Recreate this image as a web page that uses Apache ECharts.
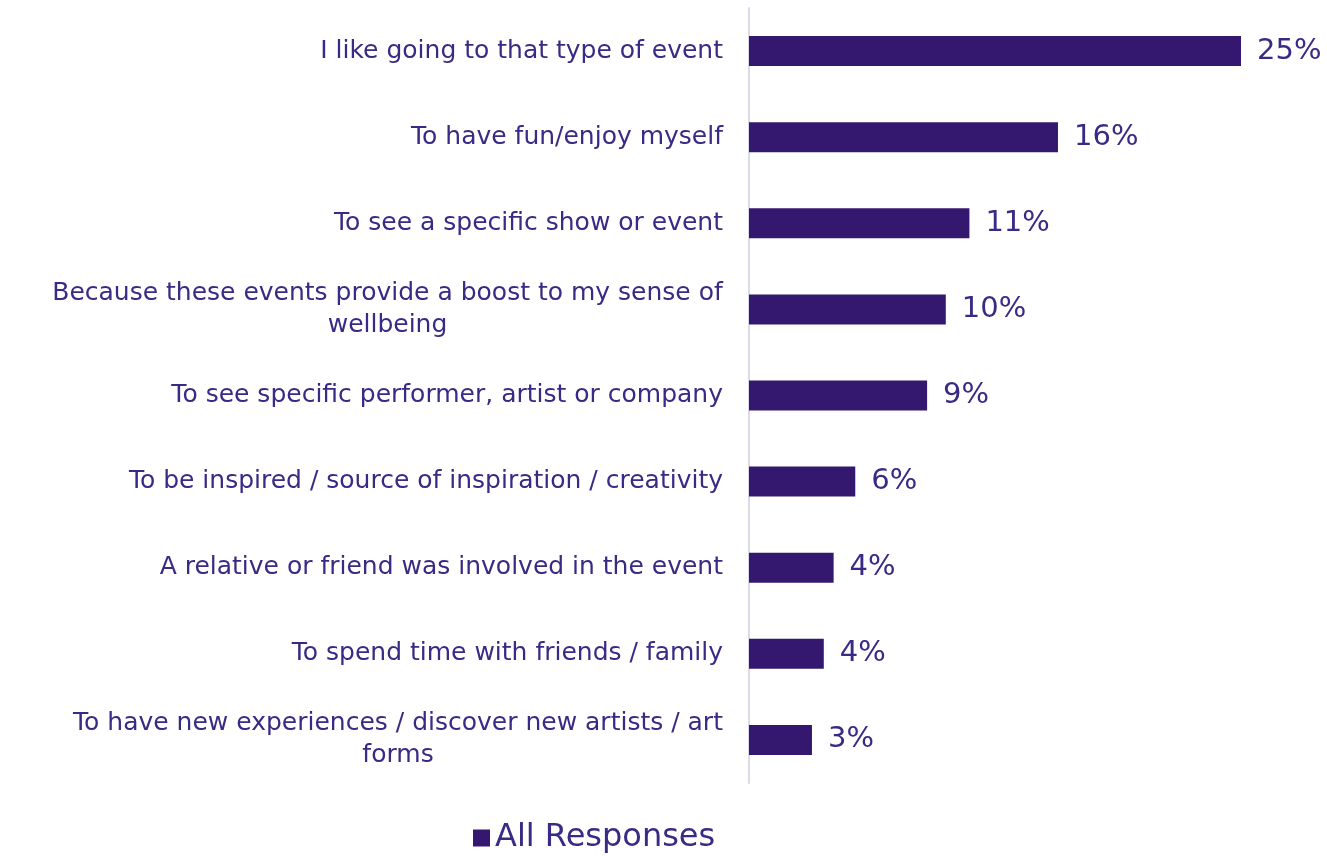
<!DOCTYPE html>
<html><head><meta charset="utf-8">
<script src="https://cdn.jsdelivr.net/npm/echarts@6/dist/echarts.min.js"></script>
<style>html,body{margin:0;padding:0;background:#fff}#c{width:1327px;height:856px}</style>
</head><body><div id="c"></div>
<script>
var categories = [
  "I like going to that type of event",
  "To have fun/enjoy myself",
  "To see a specific show or event",
  "Because these events provide a boost to my sense of\nwellbeing",
  "To see specific performer, artist or company",
  "To be inspired / source of inspiration / creativity",
  "A relative or friend was involved in the event",
  "To spend time with friends / family",
  "To have new experiences / discover new artists / art\nforms"
];
var values = [25.0, 15.7, 11.2, 10.0, 9.05, 5.4, 4.3, 3.8, 3.2];
var valueLabels = ["25%", "16%", "11%", "10%", "9%", "6%", "4%", "4%", "3%"];
var seriesName = "All Responses";

var FONT = "'DejaVu Sans', sans-serif";
var TXT = '#3a2a85';
var CAT_SIZE = 25;
var ctx = document.createElement('canvas').getContext('2d');
ctx.font = CAT_SIZE + 'px ' + FONT;
var catRich = {};
function fmtCat(v){
  var lines = v.split('\n');
  if (lines.length === 1) return v;
  var w = 0;
  lines.forEach(function(l){ w = Math.max(w, ctx.measureText(l).width); });
  var key = 'w' + Math.round(w);
  catRich[key] = {width: Math.ceil(w), align: 'center', fontSize: CAT_SIZE, color: TXT, fontFamily: FONT, lineHeight: 32};
  return lines.map(function(l){ return '{' + key + '|' + l + '}'; }).join('\n');
}
var catLabels = categories.map(fmtCat);

var chart = echarts.init(document.getElementById('c'));
chart.setOption({
  animation: false,
  textStyle: {fontFamily: FONT},
  grid: {left: 749, right: 86, top: 8, bottom: 73, containLabel: false},
  legend: {
    top: 817, left: 468, itemWidth: 17, itemHeight: 17, icon: 'rect', itemGap: 10,
    textStyle: {fontSize: 32, color: TXT, fontFamily: FONT},
    data: [seriesName]
  },
  xAxis: {type: 'value', min: 0, max: 25, show: false},
  yAxis: {
    type: 'category', inverse: true, data: catLabels,
    axisLine: {show: true, lineStyle: {color: '#d9dce8', width: 2}},
    axisTick: {show: false},
    axisLabel: {margin: 26, fontSize: CAT_SIZE, color: TXT, fontFamily: FONT, lineHeight: 32, rich: catRich}
  },
  series: [{
    name: seriesName, type: 'bar', data: values, barWidth: 30,
    itemStyle: {color: '#341870'},
    label: {show: true, position: 'right', distance: 16, fontSize: 29, color: TXT, fontFamily: FONT,
      formatter: function(p){ return valueLabels[p.dataIndex]; }}
  }]
});
</script></body></html>
